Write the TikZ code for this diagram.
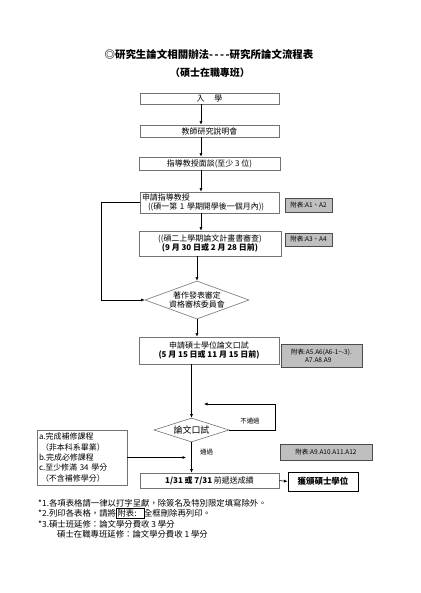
\documentclass[tikz,border=0pt]{standalone}
\usepackage{fontspec}
\setmainfont{Noto Sans CJK TC}
\usetikzlibrary{shapes.geometric,arrows.meta}

\begin{document}
\begin{tikzpicture}[x=1bp,y=-1bp,
  box/.style={draw=black!55,line width=.6bp,minimum width=139bp,inner sep=1bp,
    font=\fontsize{8}{9.5}\selectfont,align=center},
  chk/.style={diamond,draw=black!55,line width=.6bp,inner sep=0pt,aspect=2.7,
    font=\fontsize{8}{9.5}\selectfont,align=center},
  ref/.style={draw=black!70,fill=black!25,line width=.8bp,inner sep=1bp,
    font=\fontsize{6.5}{8}\selectfont,align=left},
  arr/.style={-{Latex[length=3.5bp,width=3bp]},line width=.6bp},
  tag/.style={font=\fontsize{6.5}{8}\selectfont,inner sep=1bp}]
\fill[white] (0,0) rectangle (420,593);
\path[use as bounding box] (0,0) rectangle (420,593);

\node[font=\bfseries\fontsize{10.5}{12}\selectfont] (title) at (209,55)
  {◎研究生論文相關辦法-\kern1.5bp-\kern1.5bp-\kern1.5bp-研究所論文流程表};
\node[font=\bfseries\fontsize{10}{12}\selectfont] (sub) at (210,73) {（碩士在職專班）};

\node[box,minimum height=11bp] (enter) at (209.5,98.5) {入\hspace{10bp}學};
\node[box,minimum height=12bp] (talk) at (209.5,131) {教師研究說明會};
\node[box,minimum width=141bp,minimum height=13bp] (meet) at (209.5,163.5) {指導教授面談(至少 3 位)};
\node[box,minimum height=21bp,text width=135bp,align=left] (apply) at (209.5,202.5)
  {申請指導教授\\\hspace*{6bp}((碩一第 1 學期開學後一個月內))};
\node[box,minimum width=142bp,minimum height=25bp] (plan) at (210,243.5)
  {((碩二上學期論文計畫書審查)\\\textbf{(9 月 30 日或 2 月 28 日前)}};
\node[chk,minimum width=104bp,minimum height=38bp] (pub) at (197,300) {著作發表審定\\資格審核委員會};
\node[box,minimum width=140bp,minimum height=27bp] (oral) at (209,350.5)
  {申請碩士學位論文口試\\\textbf{(5 月 15 日或 11 月 15 日前)}};
\node[chk,aspect=3,minimum width=75bp,minimum height=24bp,font=\fontsize{9}{10}\selectfont] (exam) at (191.5,430) {論文口試};
\node[box,minimum width=90bp,minimum height=55bp,text width=86bp,align=left,
  font=\fontsize{8}{10.5}\selectfont] (req) at (82,457.5)
  {a.完成補修課程\\\hspace*{2bp}（非本科系畢業）\\b.完成必修課程\\c.至少修滿 34 學分\\\hspace*{2bp}（不含補修學分）};
\node[box,minimum height=15bp] (send) at (209.5,480.5) {\textbf{1/31 或 7/31} 前遞送成績};
\node[box,draw=black,line width=1bp,minimum width=70bp,minimum height=19bp,
  font=\bfseries\fontsize{8.5}{10}\selectfont] (degree) at (323,481.5) {獲頒碩士學位};

\node[ref,minimum width=47bp,minimum height=14bp,align=center] (fa) at (308.5,205) {附表:A1、A2};
\node[ref,minimum width=47bp,minimum height=13bp,align=center] (fb) at (308.5,239.5) {附表:A3、A4};
\node[ref,minimum width=81bp,minimum height=23bp] (fc) at (321.5,355.5)
  {附表:A5.A6(A6-1\textasciitilde-3).\\\hspace*{14bp}A7.A8.A9};
\node[ref,minimum width=92bp,minimum height=16bp] (fd) at (326,452) {附表:A9.A10.A11.A12};

\node[tag] (fail) at (250,421) {不通過};
\node[tag,anchor=west] (pass) at (199,452) {通過};

\coordinate (sp) at (201,0);
\coordinate (back) at (204,404);
\coordinate (join) at (186,457.5);

\draw[arr] (enter.south -| sp) -- (talk.north -| sp);
\draw[arr] (talk.south -| sp) -- (meet.north -| sp);
\draw[arr] (meet.south -| sp) -- (apply.north -| sp);
\draw[arr] (apply.south -| sp) -- (plan.north -| sp);
\draw[arr] (plan.south -| pub.north) -- (pub.north);
\draw[arr] (pub.south) -- (oral.north -| pub.south);
\draw[arr] (apply.west) -- ++(-38,0) |- (pub.west);
\draw[arr] (oral.south -| exam.north) -- (exam.north);
\draw[arr] (exam.east) -- ++(46,0) |- (back);
\draw[arr] (exam.south) -- (send.north -| exam.south);
\draw[arr] (req.east) -- (join);
\draw[arr] (send.east) -- (degree.west);

\node[anchor=north west,align=left,inner sep=0pt,font=\fontsize{8.4}{10.5}\selectfont] (notes) at (38,499)
  {{*}1.各項表格請一律以打字呈獻，除簽名及特別限定填寫除外。\\{*}2.列印各表格，請將\fboxsep=1pt\fboxrule=.5pt\fbox{附表:\hspace{6bp}}全框刪除再列印。\\{*}3.碩士班延修：論文學分費收 3 學分\\\hspace*{19bp}碩士在職專班延修：論文學分費收 1 學分};
\end{tikzpicture}
\end{document}
